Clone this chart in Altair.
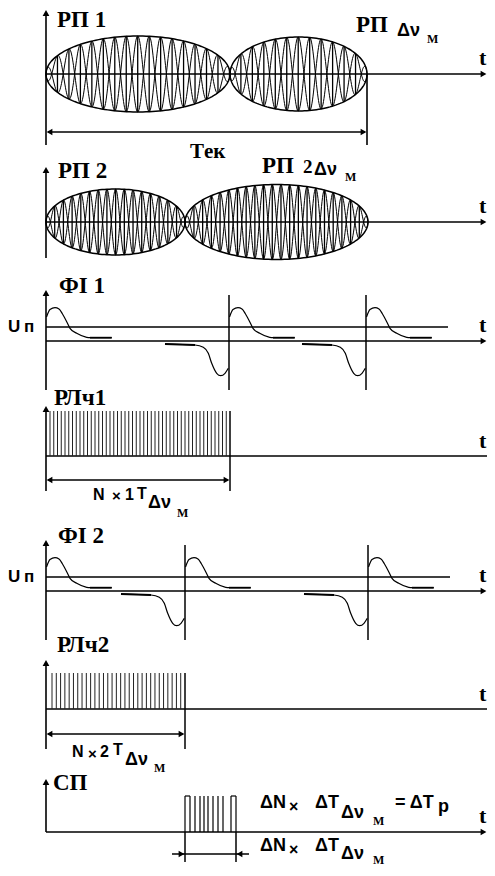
import numpy as np
import pandas as pd
import altair as alt

# ---------------- values (pixel units of the picture) ----------------
axis_x = 46
axis_end = 487

# Panels 1-2 : РП amplitude-modulated signals
rp_base = [74, 222]
rp_axis_top = [10, 167]
rp_axis_bottom = [145, 258]
rp_lobe_start = [[46, 230], [46, 185]]
rp_lobe_end = [[230, 367], [185, 368]]
rp_lobe_amp = [[38, 37], [33, 37.5]]
rp_half_periods = [28, 37]
tek_y = 132
tek_end = 367

# Panels 3,5 : ФІ pulses
fi_base = [341, 591]
fi_axis_top = [290, 540]
fi_threshold_dy = -14
fi_threshold_end = [448, 450]
fi_pos_starts = [[46, 229, 366], [46, 185, 368]]
fi_neg_ends = [[229, 366], [185, 368]]
fi_line_up = -46
fi_line_down = 49
pos_dx = [0.5, 4, 9, 13, 16.5, 20.7, 24, 30.7, 40.7, 44, 65.7]
pos_dy = [-24, -31.5, -33.3, -32, -27, -19.3, -12.7, -7.7, -3.7, -3.3, -3.3]
neg_dx = [-64, -34, -25.7, -20.7, -17.3, -12.3, -8.3, -4, -0.7]
neg_dy = [3, 4, 6.3, 12.3, 22.3, 32.3, 34.7, 32.3, 27.3]

# Panels 4,6 : РЛч pulse trains
rl_base = [456, 709]
rl_top = [411, 673]
rl_first = [50, 52]
rl_last = [230, 185]
rl_count = [49, 32]
rl_axis_top = [406, 660]
rl_dim_y = [480, 734]
rl_tick_bottom = [491, 749]

# Panel 7 : СП
sp_base = 832
sp_top = 796
sp_axis_top = 779
sp_edges = [185, 190, 195, 200, 204, 208, 213, 218, 223, 231, 236]
sp_caps = [[185, 190], [231, 236]]
sp_dim_y = 854
sp_dim_from = 172
sp_dim_to = 249
sp_tick_bottom = 862

# Texts: (text, x, baseline y, font size)
serif_texts = [
    ("РП 1", 57, 27, 23), ("РП", 356, 32, 23), ("t", 479, 65, 22), ("Tек", 190, 158, 21),
    ("РП 2", 58, 178, 23), ("РП", 262, 173, 23), ("2", 303, 173, 19), ("t", 479, 213, 22),
    ("ФІ 1", 59, 293, 23), ("t", 479, 332, 22), ("РЛч1", 54, 405, 23), ("t", 479, 448, 22),
    ("ФІ 2", 58, 543, 23), ("t", 479, 582, 22), ("РЛч2", 57, 652, 23), ("t", 479, 701, 22),
    ("СП", 53, 790, 23), ("t", 479, 823, 22),
    ("М", 427, 43, 12), ("М", 345, 181, 12), ("М", 177, 517, 12), ("М", 154, 772, 12),
    ("М", 373, 825, 12), ("М", 373, 864, 12),
]
sans_texts = [
    ("U", 8, 332, 17), ("п", 24, 332, 17), ("U", 8, 582, 17), ("п", 24, 582, 17),
    ("Δν", 397, 36, 18), ("Δν", 314, 175, 18),
    ("N", 93, 500, 16), ("×", 112, 501, 15), ("1", 125, 500, 16), ("T", 137, 499, 16), ("Δν", 148, 508, 18),
    ("N", 72, 757, 16), ("×", 88, 759, 15), ("2", 100, 757, 16), ("T", 113, 755, 16), ("Δν", 125, 765, 18),
    ("ΔN", 260, 808, 18), ("×", 289, 812, 16), ("ΔT", 315, 808, 18), ("Δν", 341, 818, 18),
    ("= ΔT", 395, 808, 18), ("р", 438, 812, 18),
    ("ΔN", 260, 851, 18), ("×", 289, 855, 16), ("ΔT", 315, 851, 18), ("Δν", 341, 859, 18),
]

# ---------------- build geometry tables ----------------
rules, curves, heads = [], [], []
gid = [0]


def seg(x, y, x2, y2, w=1.6, c="#000000"):
    rules.append(dict(x=x, y=y, x2=x2, y2=y2, w=w, c=c))


def curve(xs, ys, w=1.2):
    gid[0] += 1
    for i, (a, b) in enumerate(zip(xs, ys)):
        curves.append(dict(x=float(a), y=float(b), g=gid[0], o=i, w=w))


def head(x, y, shape):
    heads.append(dict(x=x, y=y, shape=shape))


def axis_with_arrow(top, bottom, base, arrow_right=True):
    seg(axis_x, top + 3, axis_x, bottom)
    head(axis_x, top + 3, "triangle-up")
    seg(axis_x, base, axis_end - 4, base)
    if arrow_right:
        head(axis_end - 3.5, base, "triangle-right")


# Panels 1-2
for p in range(2):
    base = rp_base[p]
    axis_with_arrow(rp_axis_top[p], rp_axis_bottom[p], base)
    starts, ends, amps = rp_lobe_start[p], rp_lobe_end[p], rp_lobe_amp[p]
    x0, x1 = starts[0], ends[-1]
    per = (x1 - x0) / rp_half_periods[p]

    def env(x):
        for s, e, a in zip(starts, ends, amps):
            if s <= x <= e:
                c, hw = (s + e) / 2, (e - s) / 2
                return a * np.sqrt(max(0.0, 1 - ((x - c) / hw) ** 2))
        return 0.0

    for s, e, a in zip(starts, ends, amps):
        th = np.linspace(0, np.pi, 90)
        c, hw = (s + e) / 2, (e - s) / 2
        curve(c - hw * np.cos(th), base - a * np.sin(th), 1.5)
        curve(c - hw * np.cos(th), base + a * np.sin(th), 1.5)
    xs = np.arange(x0, x1 + 0.01, 0.5)
    ev = np.array([env(v) for v in xs])
    ph = np.cos(np.pi * (xs - x0) / per)
    curve(xs, base - ev * ph, 1.0)
    curve(xs, base + ev * ph, 1.0)
    for k in range(1, rp_half_periods[p]):
        xv = x0 + k * per
        e = env(xv)
        if e > 1:
            seg(xv, base - e, xv, base + e, 1.3)

# T_ek dimension
seg(axis_x + 2, tek_y, tek_end - 2, tek_y, 1.6)
head(axis_x + 3.5, tek_y, "triangle-left")
head(tek_end - 3.5, tek_y, "triangle-right")
seg(tek_end, rp_base[0], tek_end, rp_axis_bottom[0], 1.6)

# Panels 3,5
fi_curves = []
fgid = [0]
for p in range(2):
    base = fi_base[p]
    axis_with_arrow(fi_axis_top[p], base + fi_line_down, base)
    seg(axis_x, base + fi_threshold_dy, fi_threshold_end[p], base + fi_threshold_dy, 1.5)
    for s in fi_pos_starts[p]:
        fgid[0] += 1
        for i, (dx, dy) in enumerate(zip(pos_dx, pos_dy)):
            fi_curves.append(dict(x=s + dx, y=base + dy, g=fgid[0], o=i))
    for e in fi_neg_ends[p]:
        fgid[0] += 1
        for i, (dx, dy) in enumerate(zip(neg_dx, neg_dy)):
            fi_curves.append(dict(x=e + dx, y=base + dy, g=fgid[0], o=i))
        seg(e, base + fi_line_up, e, base + fi_line_down, 1.5)
    for s in fi_pos_starts[p]:
        seg(s + pos_dx[-2], base + pos_dy[-1], s + pos_dx[-1], base + pos_dy[-1], 1.8)
    for e in fi_neg_ends[p]:
        seg(e + neg_dx[0], base + neg_dy[0], e + neg_dx[1], base + neg_dy[1], 1.8)

# Panels 4,6
for p in range(2):
    base = rl_base[p]
    seg(axis_x, rl_axis_top[p] + 3, axis_x, rl_tick_bottom[p])
    head(axis_x, rl_axis_top[p] + 3, "triangle-up")
    seg(axis_x, base, axis_end, base, 1.6)
    xs = np.linspace(rl_first[p], rl_last[p], rl_count[p])
    for xv in xs[:-1]:
        seg(float(xv), rl_top[p], float(xv), base, 1.0, "#222222")
    seg(rl_last[p], rl_top[p], rl_last[p], rl_tick_bottom[p], 1.5)
    seg(axis_x + 2, rl_dim_y[p], rl_last[p] - 2, rl_dim_y[p], 1.6)
    head(axis_x + 3.5, rl_dim_y[p], "triangle-left")
    head(rl_last[p] - 3.5, rl_dim_y[p], "triangle-right")

# Panel 7
axis_with_arrow(sp_axis_top, sp_base, sp_base)
for xv in sp_edges:
    seg(xv, sp_top, xv, sp_base, 1.2)
for a, b in sp_caps:
    seg(a, sp_top, b, sp_top, 1.2)
seg(sp_edges[0], sp_base, sp_edges[0], sp_tick_bottom, 1.5)
seg(sp_edges[-1], sp_base, sp_edges[-1], sp_tick_bottom, 1.5)
seg(sp_dim_from, sp_dim_y, sp_dim_to, sp_dim_y, 1.6)
head(sp_edges[0] - 3.5, sp_dim_y, "triangle-right")
head(sp_edges[-1] + 3.5, sp_dim_y, "triangle-left")

rules_df = pd.DataFrame(rules)
curves_df = pd.DataFrame(curves)
fi_df = pd.DataFrame(fi_curves)
heads_df = pd.DataFrame(heads)
serif_df = pd.DataFrame(serif_texts, columns=["t", "x", "y", "s"])
sans_df = pd.DataFrame(sans_texts, columns=["t", "x", "y", "s"])

# ---------------- chart ----------------
xs_ = alt.Scale(domain=[8, 487], nice=False, zero=False)
ys_ = alt.Scale(domain=[8, 868], nice=False, zero=False, reverse=True)
X = alt.X("x:Q", scale=xs_, axis=None)
Y = alt.Y("y:Q", scale=ys_, axis=None)

rule_layer = alt.Chart(rules_df).mark_rule().encode(
    x=X, y=Y, x2="x2:Q", y2="y2:Q",
    strokeWidth=alt.StrokeWidth("w:Q", scale=None),
    color=alt.Color("c:N", scale=None),
)
curve_layer = alt.Chart(curves_df).mark_line(color="black").encode(
    x=X, y=Y, detail="g:N", order="o:Q",
    strokeWidth=alt.StrokeWidth("w:Q", scale=None),
)
fi_layer = alt.Chart(fi_df).mark_line(color="black", interpolate="monotone", strokeWidth=1.2).encode(
    x=X, y=Y, detail="g:N", order="o:Q",
)
head_layer = alt.Chart(heads_df).mark_point(filled=True, opacity=1, color="black", size=45).encode(
    x=X, y=Y, shape=alt.Shape("shape:N", scale=None),
)
serif_layer = alt.Chart(serif_df).mark_text(
    align="left", baseline="alphabetic", font="'Liberation Serif', 'Times New Roman', serif",
    fontWeight="bold", color="black"
).encode(x=X, y=Y, text="t:N", size=alt.Size("s:Q", scale=None))
sans_layer = alt.Chart(sans_df).mark_text(
    align="left", baseline="alphabetic", font="'Liberation Sans', Arial, sans-serif",
    fontWeight="bold", color="black"
).encode(x=X, y=Y, text="t:N", size=alt.Size("s:Q", scale=None))

chart = alt.layer(
    curve_layer, fi_layer, rule_layer, head_layer, serif_layer, sans_layer
).properties(
    width=479, height=860, padding=0, autosize=alt.AutoSizeParams(type="none")
).configure_view(stroke=None)

chart.save("out.html", embed_options={"renderer": "svg", "actions": False})
